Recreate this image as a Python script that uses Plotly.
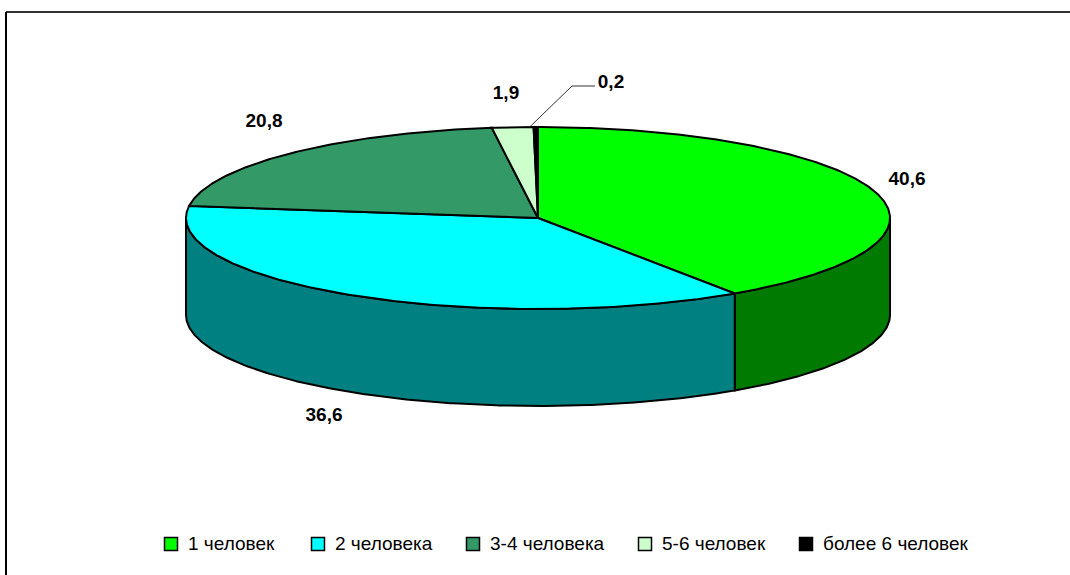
import math
import plotly.graph_objects as go

categories = ["1 человек", "2 человека", "3-4 человека", "5-6 человек", "более 6 человек"]
values = [40.6, 36.6, 20.8, 1.9, 0.2]
value_labels = ["40,6", "36,6", "20,8", "1,9", "0,2"]
top_colors = ["#00FF00", "#00FFFF", "#339966", "#CCFFCC", "#000000"]
side_colors = ["#007A00", "#008080", "#1A4D33", "#668066", "#000000"]

# layout of the pseudo-3D pie, in page pixels
CX, CY, RX, RY, DEPTH = 538, 218, 352, 91, 97
label_pos = [(907, 180), (324, 416), (264, 122), (506, 94), (611, 83)]
legend_x = [171, 318, 473, 645, 806]
LEGEND_Y = 544
TEXT_FONT = "Liberation Sans, Arial, sans-serif"


def pt(deg, dy=0):
    a = math.radians(deg)
    return CX + RX * math.sin(a), CY - RY * math.cos(a) + dy


def arc(a0, a1, dy=0):
    n = max(2, int(abs(a1 - a0)) * 2)
    return [pt(a0 + (a1 - a0) * i / n, dy) for i in range(n + 1)]


total = sum(values)
bounds = [0]
for v in values:
    bounds.append(bounds[-1] + v / total * 360)

fig = go.Figure()


def poly(points, color, width=2):
    fig.add_trace(go.Scatter(
        x=[p[0] for p in points], y=[p[1] for p in points],
        mode="lines", fill="toself", fillcolor=color,
        line=dict(color="#000000", width=width),
        hoverinfo="skip", showlegend=False))


# side walls: only the front half of the disc (90..270 degrees)
for i, c in enumerate(side_colors):
    a0, a1 = max(bounds[i], 90), min(bounds[i + 1], 270)
    if a1 > a0:
        poly(arc(a0, a1) + arc(a1, a0, DEPTH) + [pt(a0)], c)

# top faces
for i, c in enumerate(top_colors):
    poly([(CX, CY)] + arc(bounds[i], bounds[i + 1]) + [(CX, CY)], c)

# leader line of the smallest slice
mid = (bounds[4] + bounds[5]) / 2
tip = pt(mid - 1)
fig.add_trace(go.Scatter(x=[tip[0], 572, 595], y=[tip[1], 86, 86], mode="lines",
                         line=dict(color="#333333", width=1), hoverinfo="skip", showlegend=False))

# value labels
fig.add_trace(go.Scatter(
    x=[p[0] for p in label_pos], y=[p[1] for p in label_pos], mode="text",
    text=value_labels, textposition="middle center",
    textfont=dict(family=TEXT_FONT, size=19, color="#000000"),
    texttemplate="<b>%{text}</b>", hoverinfo="skip", showlegend=False))

# legend row
for name, col, lx in zip(categories, top_colors, legend_x):
    fig.add_trace(go.Scatter(
        x=[lx], y=[LEGEND_Y], mode="markers",
        marker=dict(symbol="square", size=13, color=col, line=dict(color="#000000", width=1.5)),
        hoverinfo="skip", showlegend=False))
    fig.add_annotation(x=lx + 15, y=LEGEND_Y - 1, text=name, showarrow=False, xanchor="left", yanchor="middle",
                       font=dict(family=TEXT_FONT, size=19, color="#000000"))

fig.update_layout(
    width=1070, height=575, margin=dict(l=0, r=0, t=0, b=0),
    paper_bgcolor="#FFFFFF", plot_bgcolor="#FFFFFF",
    xaxis=dict(range=[0, 1070], visible=False, fixedrange=True),
    yaxis=dict(range=[575, 0], visible=False, fixedrange=True),
    shapes=[
        dict(type="line", xref="x", yref="y", x0=6, y0=12, x1=1070, y1=12,
             line=dict(color="#333333", width=2), layer="below"),
        dict(type="line", xref="x", yref="y", x0=6, y0=12, x1=6, y1=575,
             line=dict(color="#000000", width=2), layer="below"),
    ],
)
fig.write_html("out.html", config={"displayModeBar": False},
               post_script="document.body.style.margin='0';document.body.style.overflow='hidden';")
